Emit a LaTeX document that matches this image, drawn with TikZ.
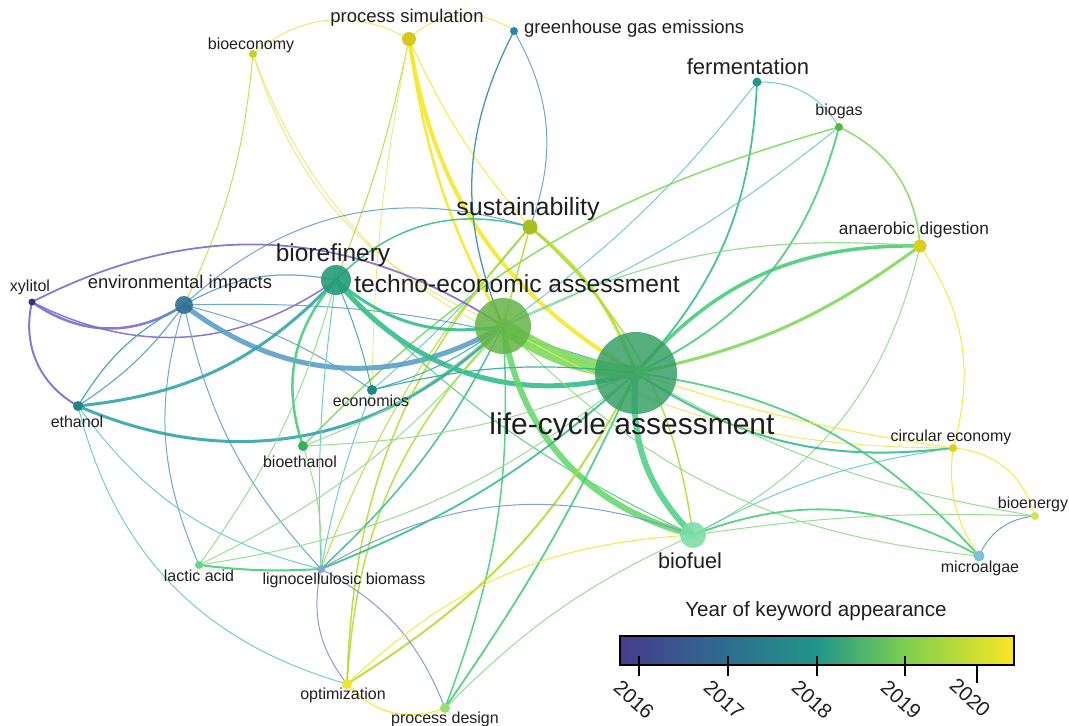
\documentclass[tikz,border=0pt]{standalone}
\usepackage{fontspec}
\setmainfont{Liberation Sans}
\usetikzlibrary{backgrounds}
% node colours
\definecolor{cXyl}{RGB}{60,45,125}
\definecolor{cEnv}{RGB}{45,110,145}
\definecolor{cBioref}{RGB}{35,155,120}
\definecolor{cTEA}{RGB}{100,180,70}
\definecolor{cLCA}{RGB}{55,160,100}
\definecolor{cPS}{RGB}{215,200,30}
\definecolor{cGHG}{RGB}{40,135,165}
\definecolor{cBioe}{RGB}{195,210,40}
\definecolor{cFerm}{RGB}{35,150,145}
\definecolor{cBiogas}{RGB}{85,185,65}
\definecolor{cSust}{RGB}{170,190,35}
\definecolor{cAD}{RGB}{220,205,30}
\definecolor{cEcon}{RGB}{35,135,135}
\definecolor{cEth}{RGB}{35,130,140}
\definecolor{cBioeth}{RGB}{55,175,90}
\definecolor{cCE}{RGB}{225,205,25}
\definecolor{cBioen}{RGB}{205,232,85}
\definecolor{cBiofuel}{RGB}{125,222,165}
\definecolor{cLactic}{RGB}{100,215,140}
\definecolor{cLigno}{RGB}{135,165,215}
\definecolor{cMicro}{RGB}{125,190,220}
\definecolor{cOpt}{RGB}{240,228,50}
\definecolor{cPD}{RGB}{150,225,110}
% edge colours
\definecolor{ePur}{RGB}{125,105,205}
\definecolor{eBlu}{RGB}{90,160,200}
\definecolor{eTealB}{RGB}{50,140,170}
\definecolor{eTeal}{RGB}{50,165,170}
\definecolor{eTealL}{RGB}{100,200,195}
\definecolor{eGT}{RGB}{50,190,140}
\definecolor{eG}{RGB}{70,205,120}
\definecolor{eG2}{RGB}{80,210,140}
\definecolor{eGL}{RGB}{140,220,130}
\definecolor{eLime}{RGB}{125,218,90}
\definecolor{eLime2}{RGB}{105,215,110}
\definecolor{eYG}{RGB}{180,220,50}
\definecolor{eY}{RGB}{245,232,40}
\definecolor{eYL}{RGB}{230,232,100}
\definecolor{eLigno}{RGB}{115,150,210}
% colour bar
\definecolor{vA}{RGB}{70,60,140}
\definecolor{vB}{RGB}{45,110,142}
\definecolor{vC}{RGB}{32,150,138}
\definecolor{vD}{RGB}{125,208,78}
\definecolor{vE}{RGB}{250,230,35}
\newcommand{\fsz}[1]{\fontsize{#1}{#1}\selectfont}
\newcommand{\lnk}[5]{\draw[lk, line width=#3pt, draw=#4] (#1.center) to[bend left=#5] (#2.center);}
\begin{document}
\begin{tikzpicture}[x=1pt,y=-1pt,
  dot/.style={circle, inner sep=0pt, draw=none},
  lab/.style={inner sep=0pt, text=black!88},
  lk/.style={opacity=.9, line cap=round},
  tick/.style={line width=1.3pt, draw=black},
  year/.style={inner sep=0pt, rotate=-42, font=\fsz{20.5}, text=black!88}]
\useasboundingbox (0,0) rectangle (1069,726);

% ---------------- nodes ----------------
\node[dot, minimum size=82pt, fill=cLCA, fill opacity=.85] (lca) at (636,373) {};
\node[dot, minimum size=56pt, fill=cTEA, fill opacity=.85] (tea) at (503,326) {};
\node[dot, minimum size=30pt, fill=cBioref, fill opacity=.9] (bioref) at (336,280) {};
\node[dot, minimum size=26pt, fill=cBiofuel, fill opacity=.9] (biofuel) at (693,535) {};
\node[dot, minimum size=18pt, fill=cEnv, fill opacity=.9] (env) at (184,305) {};
\node[dot, minimum size=15pt, fill=cSust] (sust) at (530,227) {};
\node[dot, minimum size=14pt, fill=cPS] (ps) at (409,39) {};
\node[dot, minimum size=13pt, fill=cAD] (ad) at (920,246) {};
\node[dot, minimum size=8pt, fill=cGHG] (ghg) at (514,31) {};
\node[dot, minimum size=8pt, fill=cBioe] (bioe) at (253,54) {};
\node[dot, minimum size=9pt, fill=cFerm] (ferm) at (757,82) {};
\node[dot, minimum size=8pt, fill=cBiogas] (biogas) at (839,127) {};
\node[dot, minimum size=7pt, fill=cXyl] (xyl) at (32,302) {};
\node[dot, minimum size=10pt, fill=cEcon] (econ) at (372,390) {};
\node[dot, minimum size=10pt, fill=cEth] (eth) at (78,406) {};
\node[dot, minimum size=10pt, fill=cBioeth] (bioeth) at (303,446) {};
\node[dot, minimum size=8pt, fill=cCE] (ce) at (953,448) {};
\node[dot, minimum size=8pt, fill=cBioen] (bioen) at (1035,516) {};
\node[dot, minimum size=8pt, fill=cLactic] (lactic) at (199,565) {};
\node[dot, minimum size=8pt, fill=cLigno] (ligno) at (321,569) {};
\node[dot, minimum size=11pt, fill=cMicro] (micro) at (979,556) {};
\node[dot, minimum size=10pt, fill=cOpt] (opt) at (347,684) {};
\node[dot, minimum size=10pt, fill=cPD] (pd) at (445,708) {};

% ---------------- links ----------------
\begin{pgfonlayer}{background}
% top
\lnk{bioe}{ps}{1}{eYL}{35}
\lnk{ps}{ghg}{1}{eYL}{40}
\lnk{bioe}{env}{0.9}{eYG}{10}
\lnk{bioe}{tea}{0.9}{eYL}{-25}
\lnk{bioe}{lca}{0.9}{eYL}{-30}
\lnk{ps}{tea}{2.5}{eY}{-10}
\lnk{ps}{lca}{4}{eY}{-25}
\lnk{ps}{sust}{1}{eY}{-8}
\lnk{ps}{bioref}{1}{eYG}{5}
\lnk{ps}{econ}{0.8}{eYL}{-5}
\lnk{ghg}{tea}{1.3}{eTealB}{-25}
\lnk{ghg}{sust}{1}{eBlu}{25}
\lnk{ferm}{biogas}{1}{eTealL}{30}
\lnk{ferm}{lca}{1.8}{eGT}{20}
\lnk{ferm}{tea}{1}{eTealL}{8}
\lnk{biogas}{ad}{1.5}{eLime}{30}
\lnk{biogas}{lca}{1.8}{eG}{25}
\lnk{biogas}{tea}{1}{eTealL}{8}
\lnk{biogas}{bioeth}{1.5}{eLime}{-15}
\lnk{ad}{lca}{3.5}{eG}{-25}
\lnk{ad}{lca}{3}{eLime}{12}
\lnk{ad}{ce}{1}{eY}{25}
\lnk{ad}{biofuel}{1}{eGL}{25}
\lnk{sust}{lca}{3}{eYG}{15}
\lnk{sust}{biofuel}{1.5}{eYG}{20}
\lnk{sust}{tea}{1.5}{eYG}{0}
\lnk{sust}{bioref}{1.5}{eGT}{-30}
\lnk{sust}{env}{1}{eBlu}{-30}
\lnk{sust}{econ}{1}{eTealL}{5}
\lnk{sust}{ligno}{1}{eYG}{-10}
\lnk{sust}{opt}{1.5}{eYG}{-20}
% left
\lnk{xyl}{tea}{1.8}{ePur}{30}
\lnk{xyl}{bioref}{1.5}{ePur}{-31}
\lnk{xyl}{env}{2.5}{ePur}{-34}
\lnk{xyl}{eth}{2}{ePur}{-37}
\lnk{env}{tea}{5}{eBlu}{-34}
\lnk{env}{eth}{1.2}{eBlu}{10}
\lnk{env}{eth}{1.2}{eTeal}{-15}
\lnk{env}{econ}{1}{eBlu}{10}
\lnk{env}{lactic}{1}{eBlu}{-20}
\lnk{env}{ligno}{1}{eBlu}{-15}
\lnk{env}{bioref}{1.2}{eBlu}{20}
\lnk{env}{lca}{1}{eBlu}{10}
\lnk{eth}{bioref}{3}{eTeal}{-20}
\lnk{eth}{tea}{3}{eTeal}{-34}
\lnk{eth}{opt}{1}{eTealL}{-30}
\lnk{eth}{ligno}{1}{eTealL}{-20}
% biorefinery
\lnk{bioref}{tea}{3}{eGT}{-25}
\lnk{bioref}{lca}{5}{eGT}{-33}
\lnk{bioref}{bioeth}{2.5}{eG}{-30}
\lnk{bioref}{econ}{1}{eTeal}{5}
\lnk{bioref}{ligno}{1}{eTealL}{-5}
\lnk{bioref}{lactic}{1}{eGL}{10}
\lnk{bioref}{biofuel}{1}{eG}{-10}
% techno-economic assessment
\lnk{tea}{lca}{15}{eLime}{-14}
\lnk{tea}{biofuel}{6}{eLime2}{-33}
\lnk{tea}{opt}{1.5}{eYG}{-20}
\lnk{tea}{pd}{1.5}{eG}{12}
\lnk{tea}{ligno}{1.5}{eGT}{10}
\lnk{tea}{lactic}{1}{eGL}{12}
\lnk{tea}{ad}{1.2}{eGL}{15}
\lnk{tea}{ce}{1}{eYL}{-15}
\lnk{tea}{micro}{1}{eGL}{-20}
\lnk{tea}{econ}{1}{eTeal}{10}
\lnk{tea}{bioeth}{1}{eGL}{10}
% life-cycle assessment
\lnk{lca}{biofuel}{6}{eG2}{-25}
\lnk{lca}{ce}{2}{eGT}{-20}
\lnk{lca}{micro}{1.8}{eG}{20}
\lnk{lca}{bioen}{1}{eGL}{-10}
\lnk{lca}{econ}{1.2}{eTeal}{-10}
\lnk{lca}{ligno}{1.8}{eGT}{10}
\lnk{lca}{lactic}{1}{eGL}{15}
\lnk{lca}{opt}{2}{eYG}{15}
\lnk{lca}{pd}{1.8}{eG}{5}
\lnk{lca}{bioeth}{1}{eGL}{10}
\lnk{lca}{ce}{1}{eY}{-5}
% bottom and right
\lnk{lactic}{ligno}{2}{eG}{-5}
\lnk{ligno}{opt}{1}{eLigno}{-25}
\lnk{ligno}{pd}{1}{eLigno}{20}
\lnk{ligno}{biofuel}{1}{eLigno}{25}
\lnk{opt}{pd}{1.2}{eY}{-35}
\lnk{opt}{biofuel}{1}{eY}{20}
\lnk{pd}{biofuel}{1}{eGL}{10}
\lnk{biofuel}{micro}{1.8}{eG}{25}
\lnk{biofuel}{ce}{1}{eTealL}{10}
\lnk{biofuel}{bioen}{1}{eGL}{5}
\lnk{ce}{bioen}{1}{eY}{35}
\lnk{ce}{micro}{1}{eY}{-20}
\lnk{micro}{bioen}{1}{eBlu}{30}
\lnk{econ}{ligno}{1}{eTealL}{-5}
\lnk{bioeth}{ligno}{1}{eGL}{10}
\end{pgfonlayer}

% ---------------- labels ----------------
\node[lab, font=\fsz{18.5}] (tps) at (407,18) {process simulation};
\node[lab, font=\fsz{18.5}, anchor=west] (tghg) at (524,29) {greenhouse gas emissions};
\node[lab, font=\fsz{16}] (tbioe) at (251,45) {bioeconomy};
\node[lab, font=\fsz{22}] (tferm) at (748,67) {fermentation};
\node[lab, font=\fsz{16}] (tbiogas) at (839,111) {biogas};
\node[lab, font=\fsz{25}] (tsust) at (528,209) {sustainability};
\node[lab, font=\fsz{17.3}] (tad) at (914,230) {anaerobic digestion};
\node[lab, font=\fsz{24.5}] (tbioref) at (333,255) {biorefinery};
\node[lab, font=\fsz{16}] (txyl) at (30,287) {xylitol};
\node[lab, font=\fsz{18.4}] (tenv) at (180,284) {environmental impacts};
\node[lab, font=\fsz{24.6}] (ttea) at (517,284) {techno-economic assessment};
\node[lab, font=\fsz{30}] (tlca) at (632,427) {life-cycle assessment};
\node[lab, font=\fsz{16}] (tecon) at (371,401) {economics};
\node[lab, font=\fsz{16}] (teth) at (77,422) {ethanol};
\node[lab, font=\fsz{16}] (tbioeth) at (300,462) {bioethanol};
\node[lab, font=\fsz{16}] (tce) at (951,437) {circular economy};
\node[lab, font=\fsz{16}] (tbioen) at (1033,504) {bioenergy};
\node[lab, font=\fsz{21.7}] (tbiofuel) at (690,561) {biofuel};
\node[lab, font=\fsz{16}] (tlactic) at (199,576) {lactic acid};
\node[lab, font=\fsz{16}] (tligno) at (344,580) {lignocellulosic biomass};
\node[lab, font=\fsz{16}] (tmicro) at (980,568) {microalgae};
\node[lab, font=\fsz{16}] (topt) at (343,695) {optimization};
\node[lab, font=\fsz{16}] (tpd) at (445,719) {process design};

% ---------------- colour bar ----------------
\node[lab, font=\fsz{20.6}] (bartitle) at (816,611) {Year of keyword appearance};
\shade[left color=vA, right color=vB] (620,636) rectangle (728.5,665);
\shade[left color=vB, right color=vC] (728,636) rectangle (817.5,665);
\shade[left color=vC, right color=vD] (817,636) rectangle (905.5,665);
\shade[left color=vD, right color=vE] (905,636) rectangle (1014,665);
\draw[line width=1.5pt] (620,636) rectangle (1014,665);
\coordinate (k16) at (639,656);
\coordinate (k17) at (728,656);
\coordinate (k18) at (817,656);
\coordinate (k19) at (905,656);
\coordinate (k20) at (977,666);
\draw[tick] (k16) -- ++(0,20);
\draw[tick] (k17) -- ++(0,20);
\draw[tick] (k18) -- ++(0,20);
\draw[tick] (k19) -- ++(0,20);
\draw[tick] (k20) -- ++(0,17);
\node[year] (y16) at (634,700) {2016};
\node[year] (y17) at (724,700) {2017};
\node[year] (y18) at (812,700) {2018};
\node[year] (y19) at (901,700) {2019};
\node[year] (y20) at (970,698) {2020};
\end{tikzpicture}
\end{document}
